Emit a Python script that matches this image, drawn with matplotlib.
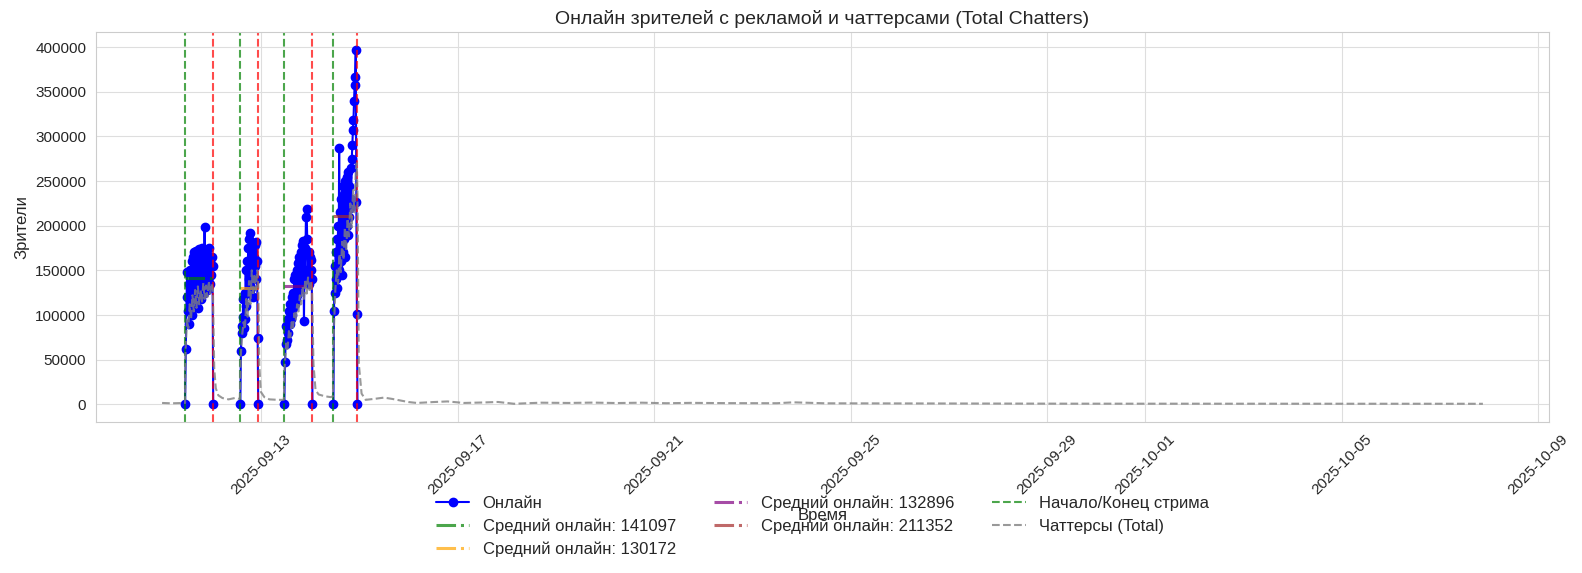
import numpy as np
import pandas as pd
import matplotlib
matplotlib.use('Agg')
import matplotlib.pyplot as plt
import matplotlib.dates as mdates
import seaborn as sns

# stream boundaries (start / end) and mean online per stream
stream_starts = ['2025-09-11 10:45', '2025-09-12 13:45', '2025-09-13 11:15', '2025-09-14 11:15']
stream_ends = ['2025-09-12 00:30', '2025-09-12 22:30', '2025-09-14 01:00', '2025-09-14 23:00']
stream_means = [141097, 130172, 132896, 211352]
mean_colors = ['green', 'orange', 'purple', 'brown']

# online viewers for every stream (evenly sampled between start and end)
online_s1 = [0, 62000, 120000, 148000, 105000, 135000, 90000, 150000, 110000, 160000,
             100000, 165000, 120000, 170000, 115000, 172000, 125000, 168000, 108000, 174000,
             130000, 165000, 118000, 175000, 135000, 170000, 125000, 198000, 140000, 172000,
             128000, 165000, 150000, 175000, 135000, 160000, 145000, 165000, 155000, 0]
online_s2 = [0, 60000, 88000, 80000, 98000, 118000, 85000, 125000, 95000, 150000,
             110000, 160000, 125000, 175000, 140000, 185000, 150000, 192000, 130000, 180000,
             145000, 170000, 120000, 165000, 155000, 178000, 140000, 182000, 160000, 74000, 0]
online_s3 = [0, 47000, 68000, 88000, 72000, 95000, 80000, 105000, 90000, 112000,
             96000, 120000, 100000, 125000, 108000, 140000, 112000, 145000, 118000, 150000,
             122000, 158000, 128000, 165000, 130000, 170000, 135000, 178000, 140000, 183000,
             93000, 175000, 150000, 210000, 219000, 185000, 145000, 170000, 135000, 165000,
             150000, 162000, 140000, 0]
online_s4 = [0, 104000, 155000, 125000, 170000, 140000, 185000, 130000, 200000, 150000,
             287000, 175000, 215000, 160000, 230000, 145000, 245000, 170000, 235000, 185000,
             250000, 165000, 240000, 200000, 255000, 190000, 260000, 210000, 245000, 220000,
             265000, 230000, 275000, 290000, 307000, 318000, 340000, 358000, 366000, 397000,
             226000, 101000, 0]
online_streams = [online_s1, online_s2, online_s3, online_s4]

# total chatters
chat_times = [
    '2025-09-10 23:30', '2025-09-11 04:00', '2025-09-11 08:00', '2025-09-11 10:45',
    '2025-09-11 11:00', '2025-09-11 11:40', '2025-09-11 12:20', '2025-09-11 13:00',
    '2025-09-11 13:40', '2025-09-11 14:20', '2025-09-11 15:00', '2025-09-11 15:40',
    '2025-09-11 16:20', '2025-09-11 17:00', '2025-09-11 17:40', '2025-09-11 18:20',
    '2025-09-11 19:00', '2025-09-11 19:40', '2025-09-11 20:20', '2025-09-11 21:00',
    '2025-09-11 21:40', '2025-09-11 22:20', '2025-09-11 23:00', '2025-09-11 23:40',
    '2025-09-12 00:20', '2025-09-12 01:00', '2025-09-12 01:45', '2025-09-12 03:00',
    '2025-09-12 05:00', '2025-09-12 08:00', '2025-09-12 11:00', '2025-09-12 13:30',
    '2025-09-12 14:00', '2025-09-12 14:40', '2025-09-12 15:20', '2025-09-12 16:00',
    '2025-09-12 16:40', '2025-09-12 17:20', '2025-09-12 18:00', '2025-09-12 18:40',
    '2025-09-12 19:20', '2025-09-12 20:00', '2025-09-12 20:40', '2025-09-12 21:20',
    '2025-09-12 22:00', '2025-09-12 22:30', '2025-09-12 23:00', '2025-09-12 23:45',
    '2025-09-13 01:30', '2025-09-13 04:00', '2025-09-13 08:00', '2025-09-13 11:00',
    '2025-09-13 11:30', '2025-09-13 12:10', '2025-09-13 12:50', '2025-09-13 13:30',
    '2025-09-13 14:10', '2025-09-13 14:50', '2025-09-13 15:30', '2025-09-13 16:10',
    '2025-09-13 16:50', '2025-09-13 17:30', '2025-09-13 18:10', '2025-09-13 18:50',
    '2025-09-13 19:30', '2025-09-13 20:10', '2025-09-13 20:50', '2025-09-13 21:30',
    '2025-09-13 22:10', '2025-09-13 22:50', '2025-09-13 23:30', '2025-09-14 00:10',
    '2025-09-14 00:50', '2025-09-14 01:30', '2025-09-14 02:30', '2025-09-14 04:00',
    '2025-09-14 07:00', '2025-09-14 10:00', '2025-09-14 11:00', '2025-09-14 11:30',
    '2025-09-14 12:10', '2025-09-14 12:50', '2025-09-14 13:30', '2025-09-14 14:10',
    '2025-09-14 14:50', '2025-09-14 15:30', '2025-09-14 16:10', '2025-09-14 16:50',
    '2025-09-14 17:30', '2025-09-14 18:10', '2025-09-14 18:50', '2025-09-14 19:30',
    '2025-09-14 20:10', '2025-09-14 20:50', '2025-09-14 21:30', '2025-09-14 22:10',
    '2025-09-14 22:40', '2025-09-14 23:00', '2025-09-14 23:40', '2025-09-15 01:00',
    '2025-09-15 03:00', '2025-09-15 07:00', '2025-09-15 12:00', '2025-09-15 16:00',
    '2025-09-16 00:00', '2025-09-16 04:00', '2025-09-16 12:00', '2025-09-16 19:00',
    '2025-09-17 03:00', '2025-09-17 12:00', '2025-09-17 19:40', '2025-09-18 03:30',
    '2025-09-18 16:40', '2025-09-19 06:00', '2025-09-19 18:00', '2025-09-20 06:00',
    '2025-09-20 18:00', '2025-09-21 06:00', '2025-09-21 18:00', '2025-09-22 12:00',
    '2025-09-23 12:00', '2025-09-23 20:00', '2025-09-24 12:00', '2025-09-25 12:00',
    '2025-09-26 12:00', '2025-09-27 12:00', '2025-09-28 12:00', '2025-09-29 12:00',
    '2025-09-30 12:00', '2025-10-01 12:00', '2025-10-02 12:00', '2025-10-03 12:00',
    '2025-10-04 12:00', '2025-10-05 12:00', '2025-10-06 12:00', '2025-10-07 12:00',
    '2025-10-07 21:00']
chat_vals = [
    1500, 1100, 1300, 1500,
    60000, 95000, 85000, 112000, 96000, 122000, 104000, 128000,
    108000, 132000, 112000, 128000, 115000, 136000, 118000, 133000,
    120000, 138000, 124000, 135000, 128000, 40000, 18000, 10000,
    7000, 5500, 7000, 6000,
    55000, 78000, 92000, 84000, 118000, 98000, 138000, 112000,
    150000, 122000, 146000, 128000, 150000, 135000, 45000, 14000,
    8000, 5500, 5000, 5000,
    45000, 68000, 62000, 82000, 75000, 92000, 86000, 102000,
    95000, 112000, 104000, 122000, 112000, 132000, 118000, 140000,
    124000, 142000, 126000, 138000, 125000, 45000, 16000, 11000,
    9000, 8000, 9000,
    85000, 128000, 150000, 135000, 168000, 148000, 182000, 162000,
    198000, 172000, 208000, 188000, 225000, 198000, 240000, 215000,
    262000, 270000, 235000, 45000, 12000,
    5000, 6000, 7500, 6000, 2500, 1500, 2500, 3200,
    1500, 2000, 2600, 600, 1800, 1500, 1900, 1400,
    1800, 1200, 1600, 1300, 1200, 2200, 1100, 1000,
    900, 800, 800, 700, 700, 650, 700, 600,
    700, 600, 650, 600, 550]

sns.set_style('whitegrid')
plt.rcParams['font.family'] = ['Liberation Sans', 'DejaVu Sans']
plt.rcParams['grid.color'] = '0.87'

fig = plt.figure(figsize=(15.82, 5.73), dpi=100)
ax = fig.add_axes([0.0607, 0.2635, 0.9184, 0.6805])

starts = pd.to_datetime(stream_starts)
ends = pd.to_datetime(stream_ends)

for i, vals in enumerate(online_streams):
    t = pd.date_range(starts[i], ends[i], periods=len(vals))
    ax.plot(t, vals, 'o-', color='blue', markersize=6, linewidth=1.5,
            label='Онлайн' if i == 0 else None)

for i in range(len(stream_means)):
    ax.plot([starts[i], ends[i]], [stream_means[i], stream_means[i]], linestyle='-.',
            color=mean_colors[i], alpha=0.7, linewidth=2.2,
            label=f'Средний онлайн: {stream_means[i]}')

for i in range(len(starts)):
    ax.axvline(starts[i], color='green', linestyle='--', alpha=0.7, linewidth=1.5,
               label='Начало/Конец стрима' if i == 0 else None)
    ax.axvline(ends[i], color='red', linestyle='--', alpha=0.7, linewidth=1.5)

ax.plot(pd.to_datetime(chat_times), chat_vals, linestyle='--', color='gray', alpha=0.8,
        linewidth=1.5, label='Чаттерсы (Total)')

ax.xaxis.set_major_locator(mdates.DayLocator(bymonthday=range(1, 32, 4)))
ax.xaxis.set_major_formatter(mdates.DateFormatter('%Y-%m-%d'))
ax.tick_params(axis='both', labelsize=11)
plt.setp(ax.get_xticklabels(), rotation=45)

ax.set_title('Онлайн зрителей с рекламой и чаттерсами (Total Chatters)', fontsize=14)
ax.set_xlabel('Время', fontsize=12, labelpad=8)
ax.set_ylabel('Зрители', fontsize=12)
ax.legend(loc='upper center', bbox_to_anchor=(0.5, -0.15), ncol=3, frameon=False,
          fontsize=12, labelspacing=0.45, columnspacing=2.3)

fig.savefig('out.png', dpi=100)
